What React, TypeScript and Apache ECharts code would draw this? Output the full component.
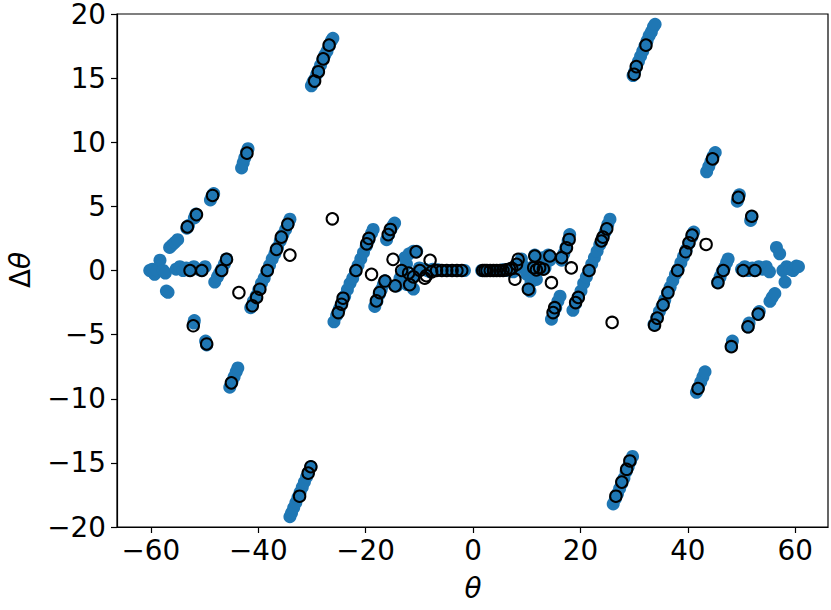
import React, { useEffect, useRef } from "react";
import * as echarts from "echarts";

const xTicks = [-60, -40, -20, 0, 20, 40, 60];
const xRange = [-66.3, 66.1];
const yRange = [-20, 20];
const yStep = 5;

// filled blue markers (theta, delta theta)
const bluePoints: [number, number][] = [
  // top-left streak
  [-30.1, 14.4], [-29.8, 14.7], [-29.5, 14.9], [-29.1, 15.3], [-28.8, 15.6], [-28.4, 16.0],
  [-28.0, 16.4], [-27.6, 16.8], [-27.2, 17.1], [-26.8, 17.5], [-26.4, 17.9], [-26.1, 18.1],
  // top-right streak
  [29.8, 15.2], [30.1, 15.5], [30.4, 15.9], [30.8, 16.3], [31.2, 16.7], [31.6, 17.1],
  [32.0, 17.5], [32.4, 17.9], [32.8, 18.3], [33.2, 18.6], [33.6, 19.0], [33.9, 19.2],
  // bottom-left streak
  [-34.1, -19.2], [-33.8, -18.9], [-33.4, -18.5], [-33.0, -18.1], [-32.6, -17.7], [-32.2, -17.3],
  [-31.8, -16.9], [-31.4, -16.5], [-31.0, -16.1], [-30.6, -15.7], [-30.2, -15.3],
  // bottom-right streak
  [26.1, -18.2], [26.5, -17.8], [26.9, -17.4], [27.3, -17.0], [27.7, -16.6], [28.1, -16.2],
  [28.5, -15.7], [28.9, -15.3], [29.3, -14.9], [29.7, -14.5],
  // +-8 streaks
  [-43.1, 8.0], [-42.8, 8.4], [-42.5, 8.8], [-42.2, 9.2], [-41.9, 9.5],
  [43.5, 7.7], [43.9, 8.1], [44.3, 8.5], [44.7, 8.9], [45.1, 9.2],
  [-45.3, -9.1], [-44.9, -8.7], [-44.5, -8.3], [-44.1, -7.9], [-43.8, -7.6],
  [41.6, -9.5], [42.0, -9.1], [42.4, -8.7], [42.8, -8.3], [43.2, -7.9],
  // +-4..6
  [-48.9, 5.5], [-48.6, 5.8], [-48.3, 6.0],
  [49.2, 5.4], [49.4, 5.7], [49.6, 5.9],
  [-51.9, 4.1], [-51.6, 4.4], [-53.3, 3.3], [-53.0, 3.5],
  [51.7, 3.9], [51.9, 4.2],
  [-52.0, -4.1], [-51.9, -3.9],
  [-49.8, -5.5], [-49.6, -5.8],
  [53.1, -3.4], [53.3, -3.2], [51.2, -4.4], [51.4, -4.1], [48.1, -5.9], [48.3, -5.5],
  // +-2
  [-56.5, 1.8], [-56.0, 2.0], [-55.5, 2.2], [-55.0, 2.4],
  [55.3, -2.4], [55.7, -2.1], [56.2, -1.8],
  [-57.1, -1.6], [-56.8, -1.7],
  [56.5, 1.8], [57.1, 1.3],
  // outer clusters
  [-60.2, 0], [-59.7, 0.1], [-59.3, -0.3], [-58.8, 0], [-58.3, 0.8], [-57.7, 0], [-57.3, -0.2],
  [57.7, 0], [58.1, -0.9], [58.4, 0.3], [59.0, 0.1], [59.6, 0], [60.2, 0.35], [60.6, 0.3],
  // outer rows
  [-55.3, 0.1], [-54.6, 0.3], [-54.0, 0], [-53.4, 0.2], [-52.7, 0], [-52.0, 0.3], [-51.2, 0.1], [-50.5, 0], [-49.9, 0.3],
  [50.0, 0.1], [50.6, 0.3], [51.3, 0], [52.0, 0.2], [52.5, 0], [53.2, 0.3], [53.9, 0.1], [54.6, 0.3], [55.2, -0.1],
  // short streaks near +-47
  [-48.1, -0.9], [-47.6, -0.5], [-47.2, -0.2], [-46.8, 0.1], [-46.3, 0.5], [-45.9, 0.9],
  [45.6, -0.9], [46.0, -0.5], [46.4, -0.1], [46.8, 0.2], [47.2, 0.6], [47.5, 0.9],
  // long streak left
  [-41.4, -2.9], [-40.9, -2.4], [-40.4, -2.0], [-39.9, -1.5], [-39.4, -1.0], [-38.9, -0.6],
  [-38.4, -0.1], [-37.9, 0.4], [-37.4, 0.9], [-36.9, 1.3], [-36.4, 1.8], [-35.9, 2.3],
  [-35.4, 2.8], [-34.9, 3.2], [-34.4, 3.7], [-34.1, 4.0],
  // long streak right
  [33.7, -4.2], [34.2, -3.7], [34.7, -3.2], [35.2, -2.8], [35.7, -2.3], [36.2, -1.8],
  [36.7, -1.3], [37.2, -0.8], [37.7, -0.3], [38.2, 0.1], [38.7, 0.6], [39.2, 1.1],
  [39.7, 1.6], [40.2, 2.1], [40.7, 2.6], [41.1, 3.0],
  // medium streak left
  [-25.9, -4.0], [-25.4, -3.5], [-24.9, -3.0], [-24.4, -2.5], [-23.9, -2.0], [-23.4, -1.5],
  [-22.9, -1.0], [-22.4, -0.6], [-21.9, -0.1], [-21.4, 0.4], [-20.9, 0.9], [-20.4, 1.4],
  [-19.9, 1.9], [-19.4, 2.4], [-18.9, 2.9], [-18.6, 3.2],
  // medium streak right
  [18.6, -3.1], [19.1, -2.6], [19.6, -2.1], [20.1, -1.6], [20.6, -1.0], [21.1, -0.5],
  [21.6, 0.0], [22.1, 0.5], [22.6, 1.0], [23.1, 1.5], [23.6, 2.0], [24.1, 2.5],
  [24.6, 3.0], [25.1, 3.6], [25.5, 4.0],
  // small pieces left
  [-18.3, -2.8], [-17.9, -2.4], [-17.5, -1.9], [-17.1, -1.5], [-16.7, -1.1], [-16.4, -0.8],
  [-16.1, 2.4], [-15.7, 2.8], [-15.3, 3.2], [-14.9, 3.5], [-14.6, 3.7],
  // small pieces right
  [14.6, -3.8], [15.0, -3.3], [15.4, -2.9], [15.8, -2.4], [16.2, -2.0],
  [16.5, 0.8], [16.9, 1.3], [17.3, 1.8], [17.7, 2.3], [18.0, 2.8],
  // inner cluster left
  [-14.2, -1.2], [-13.6, -0.6], [-13.0, -0.1], [-12.4, 0.5], [-12.7, 1.0], [-11.9, 1.3],
  [-11.1, 1.5], [-10.5, 1.5], [-11.1, -1.45], [-11.6, -0.9], [-10.8, -0.3], [-10.0, 0.2],
  [-9.5, 0.1], [-12.3, -1.1],
  // central band
  [-9.0, 0.1], [-8.5, 0], [-8.0, -0.1], [-7.5, 0.1], [-7.0, 0], [-6.5, 0.05], [-6.0, 0],
  [-5.5, 0], [-5.0, 0], [-4.5, 0], [-4.0, 0], [-3.5, 0], [-3.0, 0], [-2.5, 0], [-2.0, 0], [-1.6, 0],
  [1.6, 0], [2.0, 0], [2.5, 0], [3.0, 0], [3.5, 0], [4.0, 0], [4.5, 0], [5.0, 0], [5.5, 0.05],
  [6.0, 0], [6.5, 0.1], [7.0, 0], [7.5, -0.1], [8.0, 0.1],
  // inner cluster right
  [8.5, 0.5], [9.0, 0.9], [9.5, 0.3], [10.0, -0.3], [10.3, -1.4], [10.6, -1.6], [10.8, -0.9],
  [11.2, 0.3], [11.5, 1.2], [11.8, -0.7], [12.1, 0.1], [12.6, 0.6], [13.0, 1.0], [13.4, 0.2],
  [14.0, 1.2], [14.3, 0.8],
];

// open black circles (theta, delta theta)
const openPoints: [number, number][] = [
  [-42.1, 9.15], [-48.5, 5.85], [-51.5, 4.36], [-53.2, 3.4], [-52.7, 0], [-50.5, 0],
  [-46.8, 0], [-45.9, 0.87], [-43.6, -1.72], [-41.1, -2.75], [-40.3, -2.1], [-39.7, -1.46],
  [-38.3, 0], [-36.6, 1.65], [-35.7, 2.6], [-34.5, 3.6], [-34.1, 1.2], [-52.1, -4.31],
  [-49.6, -5.73], [-45.0, -8.76],
  [-29.5, 14.77], [-28.8, 15.5], [-27.9, 16.5], [-26.8, 17.57],
  [30.0, 15.3], [30.4, 15.9], [32.2, 17.57],
  [-30.2, -15.3], [-30.7, -15.8], [-32.3, -17.6],
  [26.6, -17.6], [27.7, -16.5], [28.6, -15.5], [29.2, -14.85],
  [44.6, 8.7], [49.4, 5.7], [51.9, 4.23], [50.3, 0], [52.5, 0], [45.6, -0.95], [46.6, 0],
  [53.1, -3.4], [51.2, -4.39], [48.1, -5.94], [41.9, -9.2], [43.4, 2.03],
  [33.8, -4.26], [34.3, -3.71], [35.4, -2.68], [36.3, -1.72], [38.1, 0], [39.6, 1.46],
  [40.2, 2.16], [40.8, 2.76], [25.9, -4.05],
  [19.1, -2.5], [19.6, -2.1], [21.6, 0], [23.9, 2.3], [24.2, 2.6], [24.9, 3.25],
  [14.9, -3.28], [15.2, -2.9], [16.5, 1.0], [17.4, 1.77], [17.9, 2.42],
  [18.3, 0.2], [14.6, -0.95], [14.3, 1.13], [13.1, 0.1], [12.4, 0.2], [11.8, 0.05],
  [11.5, 1.13], [11.3, 0.22], [10.3, -1.46], [8.4, 0.87], [8.1, 0.48], [7.8, -0.68],
  [7.2, 0.17], [6.8, 0.1], [6.2, 0.05], [5.6, 0], [5.0, 0], [4.4, 0], [3.8, 0], [3.2, 0],
  [2.6, 0], [2.2, 0], [1.8, 0],
  [-26.2, 4.03], [-25.1, -3.28], [-24.5, -2.63], [-24.2, -2.16], [-21.8, 0], [-19.8, 2.08],
  [-19.4, 2.5], [-18.9, -0.3], [-18.0, -2.37], [-17.4, -1.72], [-16.4, -0.82], [-15.8, 2.8],
  [-15.4, 3.2], [-14.9, 0.87], [-14.5, -1.2], [-13.3, 0], [-12.0, -0.2], [-11.8, -1.1],
  [-11.1, -0.5], [-10.6, 1.45], [-9.9, 0], [-9.0, -0.6], [-8.7, -0.4], [-8.0, 0.8],
  [-7.7, -0.1], [-6.8, 0], [-5.8, 0], [-4.9, 0], [-3.9, 0], [-3.0, 0], [-2.1, 0],
];

const minus = (v: number) => String(v).replace("-", "\u2212");
const FONT = "DejaVu Sans";
const FS = 27.8;

export default function App() {
  const ref = useRef<HTMLDivElement>(null);
  useEffect(() => {
    if (!ref.current) return;
    const chart = echarts.init(ref.current, null, { renderer: "svg" });
    chart.setOption({
      animation: false,
      backgroundColor: "#ffffff",
      grid: {
        left: 117,
        right: 3,
        top: 12,
        bottom: 83,
        show: true,
        borderColor: "#000",
        borderWidth: 1.2,
        backgroundColor: "transparent",
      },
      xAxis: {
        type: "value",
        min: xRange[0],
        max: xRange[1],
        splitLine: { show: false },
        axisLine: { show: true, onZero: false, lineStyle: { color: "#000", width: 1.2 } },
        axisTick: { show: true, length: 6, customValues: xTicks, lineStyle: { color: "#000", width: 1.2 } },
        axisLabel: {
          customValues: xTicks,
          formatter: minus,
          color: "#000",
          fontSize: FS,
          fontFamily: FONT,
          margin: 9,
        },
      },
      yAxis: {
        type: "value",
        min: yRange[0],
        max: yRange[1],
        interval: yStep,
        splitLine: { show: false },
        axisLine: { show: true, onZero: false, lineStyle: { color: "#000", width: 1.2 } },
        axisTick: { show: true, length: 6, lineStyle: { color: "#000", width: 1.2 } },
        axisLabel: {
          formatter: minus,
          color: "#000",
          fontSize: FS,
          fontFamily: FONT,
          lineHeight: 22,
          margin: 11,
        },
      },
      graphic: [
        {
          type: "text",
          x: 473,
          y: 588,
          style: {
            text: "θ",
            fontSize: FS,
            fontStyle: "italic",
            fontFamily: FONT,
            fill: "#000",
            align: "center",
            verticalAlign: "middle",
          },
        },
        {
          type: "text",
          x: 20,
          y: 270,
          rotation: Math.PI / 2,
          style: {
            text: "{a|Δ}{b|θ}",
            fontSize: FS,
            fontFamily: FONT,
            fill: "#000",
            align: "center",
            verticalAlign: "middle",
            rich: {
              a: { fontSize: FS, fontFamily: FONT, fontStyle: "normal", fill: "#000" },
              b: { fontSize: FS, fontFamily: FONT, fontStyle: "italic", fill: "#000" },
            },
          },
        },
      ],
      series: [
        {
          type: "scatter",
          data: bluePoints,
          symbol: "circle",
          symbolSize: 13,
          itemStyle: { color: "#1f77b4", opacity: 1 },
          z: 2,
        },
        {
          type: "scatter",
          data: openPoints,
          symbol: "circle",
          symbolSize: 11.5,
          itemStyle: { color: "transparent", borderColor: "#000", borderWidth: 2, opacity: 1 },
          z: 3,
        },
      ],
    });
    return () => chart.dispose();
  }, []);
  return (
    <div
      ref={ref}
      style={{ position: "fixed", left: 0, top: 0, width: 831, height: 610, background: "#fff" }}
    />
  );
}
